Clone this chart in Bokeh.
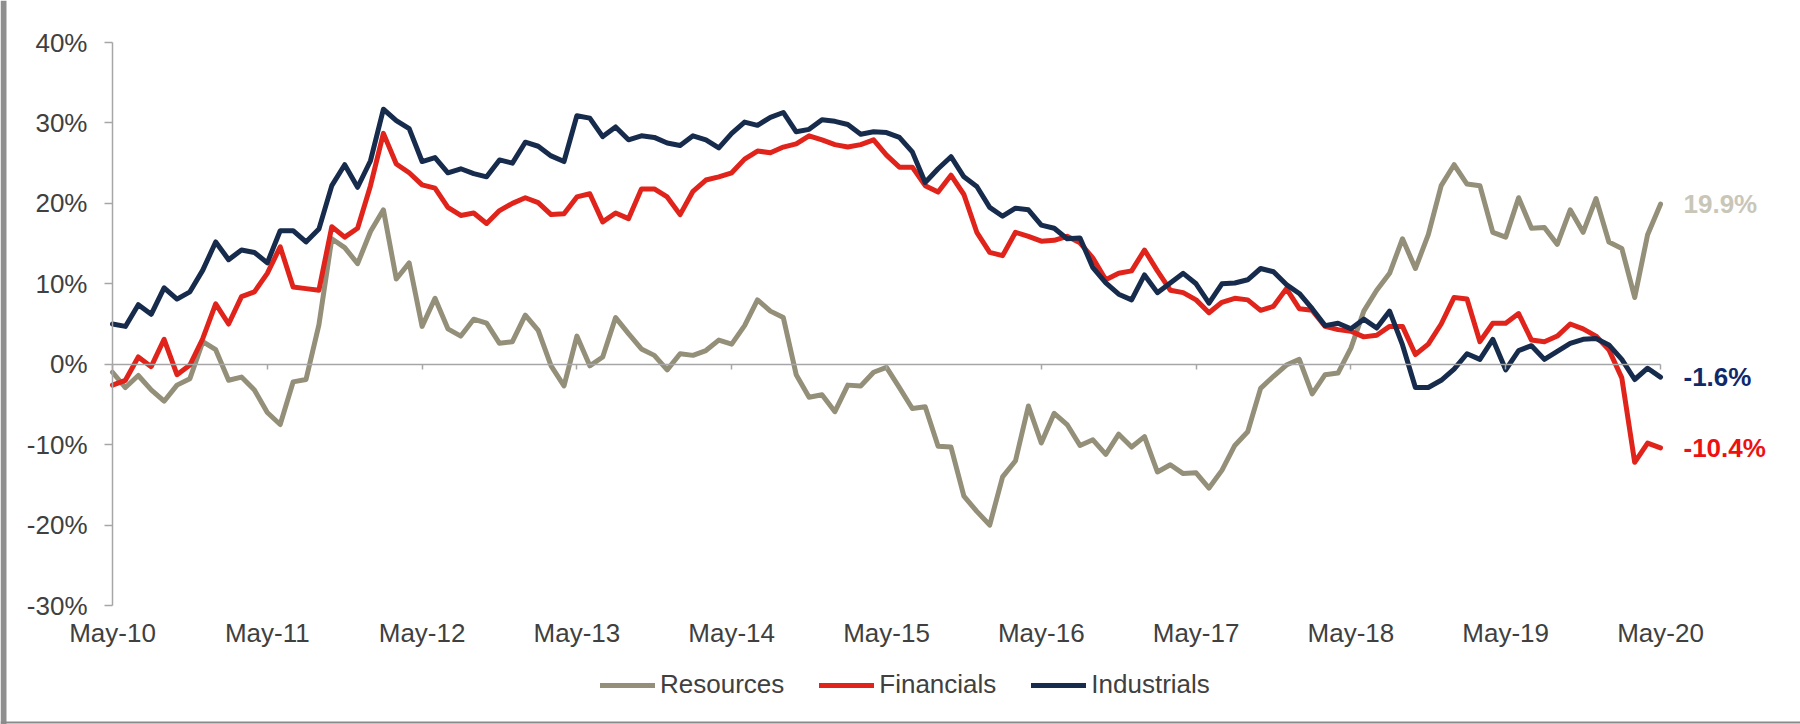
from bokeh.plotting import figure
from bokeh.models import (Range1d, FixedTicker, LinearAxis, PrintfTickFormatter,
                          Legend, LegendItem, BoxAnnotation, Span)
from bokeh.core.properties import value
from bokeh.embed import file_html
from bokeh.resources import INLINE

# ---------------- data (monthly, May-10 .. May-20, cumulative % performance) -------------
tick_labels = ["May-10", "May-11", "May-12", "May-13", "May-14", "May-15",
               "May-16", "May-17", "May-18", "May-19", "May-20"]
y_ticks = [-30, -20, -10, 0, 10, 20, 30, 40]
series_names = ["Resources", "Financials", "Industrials"]

resources = [
    -1.0, -2.9, -1.4, -3.2, -4.6, -2.6, -1.8, 2.8, 1.8, -2.0, -1.6, -3.2,
    -6.0, -7.5, -2.2, -1.9, 4.9, 15.6, 14.5, 12.5, 16.5, 19.2, 10.6, 12.6,
    4.7, 8.2, 4.4, 3.5, 5.6, 5.1, 2.6, 2.8, 6.1, 4.2, -0.2, -2.7,
    3.5, -0.2, 0.9, 5.8, 3.8, 1.9, 1.1, -0.7, 1.3, 1.1, 1.7, 3.0,
    2.5, 4.8, 8.0, 6.6, 5.8, -1.3, -4.1, -3.8, -5.9, -2.6, -2.7, -1.0,
    -0.4, -2.9, -5.5, -5.3, -10.2, -10.3, -16.4, -18.3, -20.0, -14.0, -12.0, -5.2,
    -9.8, -6.1, -7.5, -10.1, -9.4, -11.2, -8.7, -10.3, -9.0, -13.4, -12.5, -13.6,
    -13.5, -15.4, -13.2, -10.1, -8.4, -3.0, -1.5, -0.1, 0.6, -3.7, -1.3, -1.1,
    2.0, 6.6, 9.2, 11.3, 15.6, 11.9, 16.1, 22.2, 24.8, 22.4, 22.2, 16.4,
    15.8, 20.7, 16.9, 17.0, 14.9, 19.2, 16.4, 20.6, 15.2, 14.4, 8.3, 16.1,
    19.9]

financials = [
    -2.6, -2.0, 0.9, -0.3, 3.1, -1.3, -0.1, 3.2, 7.5, 5.0, 8.4, 9.0,
    11.3, 14.6, 9.6, 9.4, 9.2, 17.1, 15.8, 16.9, 22.2, 28.7, 24.9, 23.8,
    22.3, 21.9, 19.5, 18.5, 18.8, 17.5, 19.1, 20.0, 20.7, 20.1, 18.6, 18.7,
    20.8, 21.2, 17.7, 18.8, 18.1, 21.8, 21.8, 20.8, 18.6, 21.5, 22.9, 23.3,
    23.8, 25.5, 26.5, 26.3, 27.0, 27.4, 28.4, 27.9, 27.3, 27.0, 27.3, 27.9,
    26.0, 24.5, 24.5, 22.2, 21.4, 23.5, 21.1, 16.4, 13.9, 13.5, 16.4, 15.9,
    15.3, 15.4, 15.9, 15.1, 13.2, 10.5, 11.3, 11.6, 14.2, 11.6, 9.2, 8.9,
    8.0, 6.4, 7.7, 8.2, 8.0, 6.7, 7.2, 9.4, 6.9, 6.7, 4.7, 4.3,
    4.1, 3.4, 3.6, 4.7, 4.7, 1.2, 2.5, 5.0, 8.3, 8.1, 2.8, 5.1,
    5.1, 6.3, 3.0, 2.8, 3.5, 5.0, 4.4, 3.5, 1.8, -1.7, -12.2, -9.8,
    -10.4]

industrials = [
    5.0, 4.7, 7.4, 6.2, 9.5, 8.1, 9.0, 11.7, 15.2, 13.0, 14.2, 13.9,
    12.6, 16.6, 16.6, 15.2, 16.8, 22.2, 24.8, 22.0, 25.3, 31.7, 30.3, 29.3,
    25.2, 25.7, 23.8, 24.3, 23.7, 23.3, 25.4, 25.0, 27.6, 27.1, 25.9, 25.2,
    30.9, 30.6, 28.3, 29.5, 27.9, 28.4, 28.2, 27.5, 27.2, 28.4, 27.9, 26.9,
    28.7, 30.1, 29.7, 30.7, 31.3, 28.9, 29.2, 30.4, 30.2, 29.8, 28.6, 28.9,
    28.8, 28.2, 26.4, 22.6, 24.3, 25.8, 23.3, 22.1, 19.5, 18.4, 19.4, 19.2,
    17.3, 16.9, 15.6, 15.7, 12.0, 10.1, 8.7, 8.0, 11.1, 8.9, 10.1, 11.3,
    10.0, 7.6, 10.0, 10.1, 10.5, 11.9, 11.5, 9.9, 8.8, 6.9, 4.8, 5.1,
    4.4, 5.6, 4.5, 6.6, 2.4, -2.9, -2.9, -2.0, -0.6, 1.3, 0.6, 3.1,
    -0.7, 1.7, 2.3, 0.6, 1.6, 2.6, 3.1, 3.2, 2.4, 0.6, -1.9, -0.5,
    -1.6]

# ---------------- layout & styling ----------------
W, H = 1800, 724
FRAME_L, FRAME_R, FRAME_T, FRAME_B = 112, 1660, 42, 605   # pixel box of the plotting area
FONT = "Liberation Sans"
C_RES, C_FIN, C_IND = "#948f79", "#e0241b", "#172b4d"
LBL_COLORS = ["#c9c6b8", "#10296b", "#ee1111"]
AXIS_GRAY = "#a6a6a6"
TEXT_GRAY = "#404040"

months = list(range(len(resources)))
x_ticks = [12 * k for k in range(len(tick_labels))]

x0, x1 = months[0], months[-1]
y0, y1 = y_ticks[0], y_ticks[-1]
ppx = (FRAME_R - FRAME_L) / (x1 - x0)
ppy = (FRAME_B - FRAME_T) / (y1 - y0)
x_range = Range1d(x0 - FRAME_L / ppx, x1 + (W - FRAME_R) / ppx)
y_range = Range1d(y0 - (H - FRAME_B) / ppy, y1 + FRAME_T / ppy)

p = figure(width=W, height=H, output_backend="svg", toolbar_location=None,
           x_range=x_range, y_range=y_range, x_axis_type=None, y_axis_type=None,
           min_border=0, min_border_left=0, min_border_right=0,
           min_border_top=0, min_border_bottom=0)
p.outline_line_color = None
p.background_fill_color = "white"
p.border_fill_color = "white"

# y axis (at the first month)
yax = LinearAxis(ticker=FixedTicker(ticks=y_ticks), formatter=PrintfTickFormatter(format="%d%%"),
                 bounds=(y0, y1))
yax.fixed_location = x0
yax.axis_line_color = AXIS_GRAY
yax.axis_line_width = 1.5
yax.major_tick_line_color = AXIS_GRAY
yax.major_tick_line_width = 1.5
yax.major_tick_out = 8
yax.major_tick_in = 0
yax.minor_tick_line_color = None
yax.major_label_standoff = 17
yax.major_label_text_font = FONT
yax.major_label_text_font_size = "26px"
yax.major_label_text_color = TEXT_GRAY
p.add_layout(yax, "left")

# x axis labels at the bottom of the plotting area
xlab = LinearAxis(ticker=FixedTicker(ticks=x_ticks), bounds=(x0, x1),
                  major_label_overrides={t: l for t, l in zip(x_ticks, tick_labels)})
xlab.fixed_location = y0
xlab.axis_line_color = None
xlab.major_tick_line_color = None
xlab.minor_tick_line_color = None
xlab.major_label_standoff = 6
xlab.major_label_text_font = FONT
xlab.major_label_text_font_size = "26px"
xlab.major_label_text_color = TEXT_GRAY
p.add_layout(xlab, "below")

# zero line axis with tick marks
xzero = LinearAxis(ticker=FixedTicker(ticks=x_ticks), bounds=(x0, x1),
                   major_label_overrides={t: "" for t in x_ticks})
xzero.fixed_location = 0
xzero.axis_line_color = AXIS_GRAY
xzero.axis_line_width = 1.5
xzero.major_tick_line_color = AXIS_GRAY
xzero.major_tick_line_width = 1.5
xzero.major_tick_out = 5
xzero.major_tick_in = 0
xzero.minor_tick_line_color = None
p.add_layout(xzero, "below")

renderers = []
for vals, col in zip([resources, financials, industrials], [C_RES, C_FIN, C_IND]):
    r = p.line(months, vals, line_color=col, line_width=5, line_join="round", line_cap="round")
    renderers.append(r)

# end-of-series value labels
last_vals = [resources[-1], industrials[-1], financials[-1]]
p.text(x=[months[-1]] * 3, y=last_vals, text=[f"{v:.1f}%" for v in last_vals],
       text_color=LBL_COLORS, x_offset=23, text_align="left", text_baseline="middle",
       text_font=value(FONT), text_font_size="26px", text_font_style="bold")

legend = Legend(items=[LegendItem(label=n, renderers=[r]) for n, r in zip(series_names, renderers)],
                orientation="horizontal", location=(600, 24), padding=0, margin=0, spacing=35,
                glyph_width=55, glyph_height=30, label_height=30, label_standoff=5,
                label_text_font=FONT, label_text_font_size="26px", label_text_color=TEXT_GRAY,
                label_text_baseline="middle",
                border_line_color=None, background_fill_alpha=0)
p.add_layout(legend)

# picture frame: grey edge on the left and a thin line at the bottom
p.add_layout(BoxAnnotation(left=0, right=6, left_units="screen", right_units="screen",
                           fill_color="#8f8f8f", fill_alpha=1, line_color=None))
p.add_layout(Span(location=y_range.start + 2 / ppy, dimension="width",
                  line_color="#8a8a8a", line_width=2))

open("out.html", "w").write(file_html(p, INLINE))
